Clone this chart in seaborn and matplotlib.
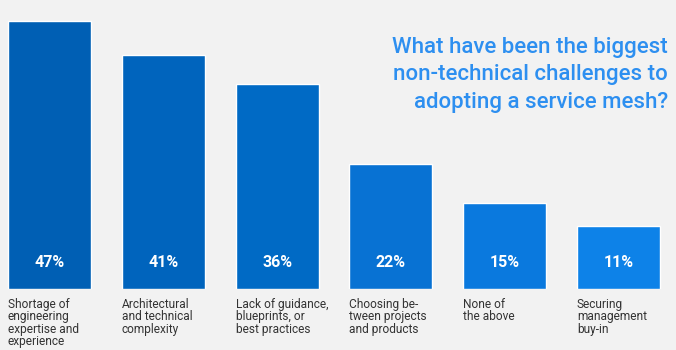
import pandas as pd
import seaborn as sns
import matplotlib
matplotlib.use("Agg")
from matplotlib import pyplot as plt

categories = [
    "Shortage of\nengineering\nexpertise and\nexperience",
    "Architectural\nand technical\ncomplexity",
    "Lack of guidance,\nblueprints, or\nbest practices",
    "Choosing be-\ntween projects\nand products",
    "None of\nthe above",
    "Securing\nmanagement\nbuy-in",
]
values = [47, 41, 36, 22, 15, 11]
bar_colors = ["#005fb4", "#0064bd", "#006ac5", "#0872d3", "#0a79de", "#0d82e8"]
title = "What have been the biggest\nnon-technical challenges to\nadopting a service mesh?"

df = pd.DataFrame({"category": categories, "value": values})

sns.set_theme(style="white")
plt.rcParams["font.family"] = ["Roboto", "DejaVu Sans"]

fig = plt.figure(figsize=(6.76, 3.5), dpi=100, facecolor="#f2f2f2")
ax = fig.add_axes([0, 61 / 350, 1, 289 / 350])
ax.set_facecolor("#f2f2f2")

sns.barplot(
    df,
    x="category",
    y="value",
    hue="category",
    palette=bar_colors,
    legend=False,
    width=0.73,
    saturation=1,
    ax=ax,
)

ax.set_xlim(-0.435, 5.505)
ax.set_ylim(0, 50.7)
for s in ax.spines.values():
    s.set_visible(False)
ax.set_xticks([])
ax.set_yticks([])
ax.set_xlabel("")
ax.set_ylabel("")

for i, v in enumerate(values):
    ax.text(i, 4.6, f"{v}%", color="white", ha="center", va="center",
            fontsize=11.5, fontweight="bold")
    ax.text(i - 0.365, -1.6, categories[i], color="#333333", ha="left", va="top",
            fontsize=8.6, linespacing=0.92)

fig.text(668 / 676, 1 - 37 / 350, title, color="#2d8ff0", ha="right", va="top",
         fontsize=16, fontweight="medium", linespacing=1.4)

fig.savefig("out.png", dpi=100, facecolor=fig.get_facecolor())
